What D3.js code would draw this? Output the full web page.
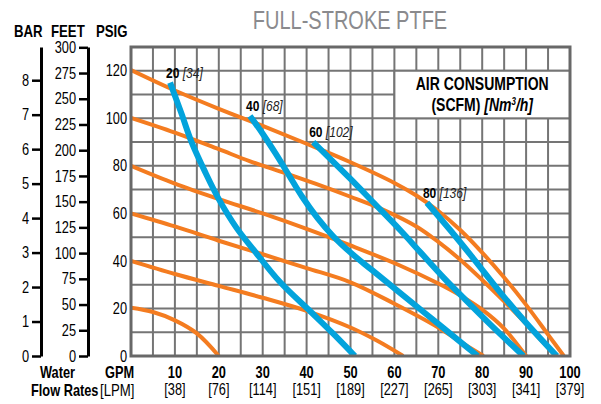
<!DOCTYPE html>
<html lang="en">
<head>
<meta charset="UTF-8">
<title>Full-Stroke PTFE</title>
<script src="https://cdn.jsdelivr.net/npm/d3@7"></script>
<style>
  body { margin: 0; background: #fff; }
  text { font-family: "Liberation Sans", Arial, sans-serif; }
</style>
</head>
<body>
<script>
const WIDTH = 601, HEIGHT = 404;

// axis values
const gpmTicks = [10, 20, 30, 40, 50, 60, 70, 80, 90, 100];
const lpmTicks = ["[38]", "[76]", "[114]", "[151]", "[189]", "[227]", "[265]", "[303]", "[341]", "[379]"];
const psiTicks = [0, 20, 40, 60, 80, 100, 120];
const barTicks = [0, 1, 2, 3, 4, 5, 6, 7, 8];
const feetTicks = [0, 25, 50, 75, 100, 125, 150, 175, 200, 225, 250, 275, 300];

// inlet air pressure curves, [gpm, psig]
const psi120 = [[0,120.3],[10,111.7],[20,104],[30,96.8],[40,89.3],[50,81.5],[60,72.8],[65,67.5],[70,61],[75,53],[80,43.5],[85,33],[90,21.5],[95,9],[98.6,0]];
const psi100 = [[0,100.2],[10,94],[20,87],[27,82],[35,77],[42,72.5],[50,67],[57.5,61.5],[65,54.5],[70,48],[75,40.5],[80,32],[85,23],[90,13.5],[94,5.5],[96.8,0]];
const psi80 = [[0,80],[10,72.5],[20,66],[30,60],[40,53.5],[50,46.5],[61,38.3],[70,30.5],[75,25.5],[80,19.5],[85,11.5],[90,0]];
const psi60 = [[0,60],[10,54.5],[20,48.5],[30,42.8],[40,37],[50,31],[60,22],[70,12],[75,6],[80.3,0]];
const psi40 = [[0,40],[10,34.5],[20,29.5],[30,24.5],[40,19],[50,12],[56,6.5],[62,0]];
const psi20 = [[0,20.3],[5,18.5],[10,15],[15,9.5],[20,0]];

// air consumption curves, [gpm, psig]
const scfm20 = [[8.9,115],[11.5,102],[13.8,90],[17,77],[20,66],[24,54],[28,44.5],[34,31],[41,18.5],[46,9.5],[51,0]];
const scfm40 = [[27.1,101],[30,93.5],[33,85],[36,76],[39,67],[42.5,58],[46,50.5],[50,43.5],[55,36],[61,27],[67,18],[73,9],[79,0]];
const scfm60 = [[41.5,90],[50,74.5],[55,65],[61.3,53],[66,43.5],[71.2,33],[76,24],[82,13],[89.4,0]];
const scfm80 = [[67.4,64.5],[72.7,53],[78,41],[84,27],[90,14],[97,0]];
const scfmLabels = ["20", "40", "60", "80"];
const nm3Labels = ["[34]", "[68]", "[102]", "[136]"];

const pressureCurves = [psi120, psi100, psi80, psi60, psi40, psi20];
const airCurves = [scfm20, scfm40, scfm60, scfm80];

const PSI_PER_BAR = 14.5038, FEET_PER_PSI = 2.31;
const GRID = "#757575", ORANGE = "#f47c20", BLUE = "#02a3dc";
const NARROW = 0.8;

const svg = d3.select("body").append("svg").attr("width", WIDTH).attr("height", HEIGHT);

const x = d3.scaleLinear().domain([0, 100]).range([131, 570]);
const y = d3.scaleLinear().domain([0, 130]).range([356, 47]);

// title
svg.append("text").attr("x", 350).attr("y", 29).attr("text-anchor", "middle")
    .style("font-size", "25px").style("fill", "#8a8a8d").text("FULL-STROKE PTFE");

// grid
svg.append("g").selectAll("line").data(d3.range(5, 100, 5)).join("line")
    .attr("x1", d => x(d)).attr("x2", d => x(d)).attr("y1", y(0)).attr("y2", y(130))
    .attr("stroke", GRID).attr("stroke-width", 2);
svg.append("g").selectAll("line").data(d3.range(10, 130, 10)).join("line")
    .attr("x1", x(0)).attr("x2", x(100)).attr("y1", d => y(d)).attr("y2", d => y(d))
    .attr("stroke", GRID).attr("stroke-width", 2);

// legend box
svg.append("rect").attr("x", x(60)).attr("y", y(120)).attr("width", x(100) - x(60)).attr("height", y(100) - y(120))
    .attr("fill", "#fff").attr("stroke", GRID).attr("stroke-width", 2);
svg.append("text").attr("x", (x(60) + x(100)) / 2).attr("y", 90).attr("text-anchor", "middle")
    .style("font-size", "17.5px").style("font-weight", "bold").text("AIR CONSUMPTION");
const l2 = svg.append("text").attr("x", (x(60) + x(100)) / 2).attr("y", 111).attr("text-anchor", "middle")
    .style("font-size", "17.5px").style("font-weight", "bold");
l2.append("tspan").text("(SCFM) ");
l2.append("tspan").style("font-style", "italic").text("[Nm");
l2.append("tspan").style("font-style", "italic").style("font-size", "10px").attr("dy", -6).text("3");
l2.append("tspan").style("font-style", "italic").attr("dy", 6).text("/h]");

// curves
svg.append("clipPath").attr("id", "plot").append("rect")
    .attr("x", x(0)).attr("y", y(130)).attr("width", x(100) - x(0)).attr("height", y(0) - y(130));
const line = d3.line().x(d => x(d[0])).y(d => y(d[1])).curve(d3.curveCatmullRom.alpha(0.5));
const curves = svg.append("g").attr("clip-path", "url(#plot)");
curves.selectAll(".psi").data(pressureCurves).join("path").attr("class", "psi")
    .attr("d", line).attr("fill", "none").attr("stroke", ORANGE).attr("stroke-width", 4);
curves.selectAll(".air").data(airCurves).join("path").attr("class", "air")
    .attr("d", line).attr("fill", "none").attr("stroke", BLUE).attr("stroke-width", 6);

// curve labels
airCurves.forEach((c, i) => {
    const t = svg.append("text").attr("x", x(c[0][0]) - 4).attr("y", y(c[0][1]) - 5)
        .style("font-size", "15px");
    t.append("tspan").style("font-weight", "bold").text(scfmLabels[i] + " ");
    t.append("tspan").style("font-style", "italic").style("fill", "#222").text(nm3Labels[i]);
});

// plot border
svg.append("rect").attr("x", x(0)).attr("y", y(130)).attr("width", x(100) - x(0)).attr("height", y(0) - y(130))
    .attr("fill", "none").attr("stroke", "#686868").attr("stroke-width", 3);

// PSIG axis
const psiAxis = svg.append("g").attr("transform", `translate(${x(0) - 1},0)`)
    .call(d3.axisLeft(y).tickValues(psiTicks).tickSize(0).tickPadding(3));
psiAxis.select(".domain").remove();
psiAxis.selectAll("text").style("font-size", "16px").attr("fill", "#000");

// BAR and FEET axes
const yBar = d3.scaleLinear().domain([0, 130 / PSI_PER_BAR]).range(y.range());
const yFeet = d3.scaleLinear().domain([0, 130 * FEET_PER_PSI]).range(y.range());
[[yBar, barTicks, 41], [yFeet, feetTicks, 88]].forEach(([s, ticks, px]) => {
    const g = svg.append("g").attr("transform", `translate(${px},0)`)
        .call(d3.axisLeft(s).tickValues(ticks).tickSize(9).tickSizeOuter(0).tickPadding(3));
    g.select(".domain").attr("stroke", "#000").attr("stroke-width", 3);
    g.selectAll(".tick line").attr("stroke", "#000").attr("stroke-width", 2.5);
    g.selectAll("text").style("font-size", "16px").attr("fill", "#000");
});
svg.selectAll(".tick text, .domain").attr("font-family", null);
[["BAR", 14], ["FEET", 51], ["PSIG", 96]].forEach(([t, px]) => {
    svg.append("text").attr("x", px).attr("y", 37).style("font-size", "16.5px").style("font-weight", "bold").text(t);
});

// flow rate axis
svg.append("g").selectAll("text").data(gpmTicks).join("text")
    .attr("x", d => x(d)).attr("y", 378).attr("text-anchor", "middle")
    .style("font-size", "16px").style("font-weight", "bold").text(d => d);
svg.append("g").selectAll("text").data(lpmTicks).join("text")
    .attr("x", (d, i) => x(gpmTicks[i])).attr("y", 395).attr("text-anchor", "middle")
    .style("font-size", "16px").text(d => d);
svg.append("text").attr("x", 40).attr("y", 378).style("font-size", "16px").style("font-weight", "bold").text("Water");
svg.append("text").attr("x", 105).attr("y", 378).style("font-size", "16px").style("font-weight", "bold").text("GPM");
svg.append("text").attr("x", 31).attr("y", 396).style("font-size", "16px").style("font-weight", "bold").text("Flow Rates");
svg.append("text").attr("x", 100).attr("y", 396).style("font-size", "16.5px").text("[LPM]");

// condensed lettering: squeeze every text horizontally around its anchor
svg.selectAll("text").each(function () {
    const t = d3.select(this);
    const tx = +t.attr("x") || 0, ty = +t.attr("y") || 0;
    t.attr("x", 0).attr("y", 0).attr("transform", `translate(${tx},${ty}) scale(${NARROW},1)`);
});
</script>
</body>
</html>
